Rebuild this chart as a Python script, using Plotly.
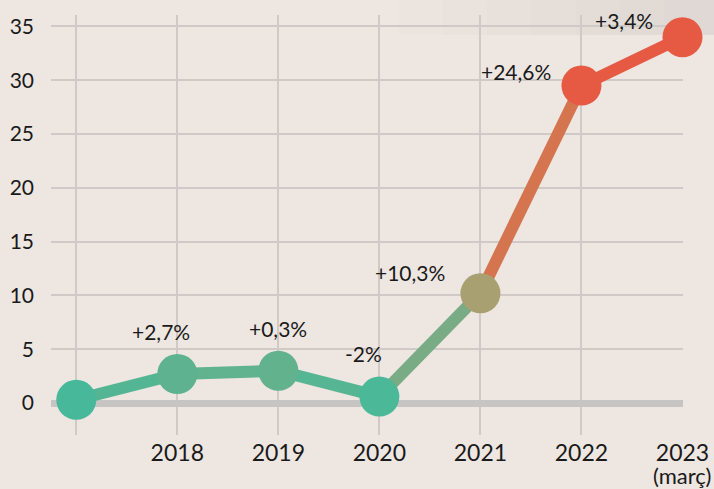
import plotly.graph_objects as go
from plotly.colors import sample_colorscale

# ---- data ----
years = [2017, 2018, 2019, 2020, 2021, 2022, 2023]
values = [0.3, 2.7, 3.0, 0.6, 10.2, 29.5, 34.0]
change_labels = ["", "+2,7%", "+0,3%", "-2%", "+10,3%", "+24,6%", "+3,4%"]
tick_text = ["", "2018", "2019", "2020", "2021", "2022", "2023"]
last_tick_note = "(març)"
y_ticks = [0, 5, 10, 15, 20, 25, 30, 35]

# ---- styles ----
BG = "#ede6e1"
FONT = "Lato"
colorscale = [[0.0, "#45b99b"], [0.34, "#a8a070"], [0.67, "#d5744f"], [0.97, "#e65a44"], [1.0, "#e65a44"]]
CMIN, CMAX = 0, 30
# label offsets (px) relative to each point
label_dx = [0, -16, 0, -16, -70, -65, -58]
label_dy = [0, 42, 42, 43, 21, 14, 17]


def col(v):
    t = min(max((v - CMIN) / (CMAX - CMIN), 0), 1)
    return sample_colorscale(colorscale, [t])[0]


fig = go.Figure()

# line segments, colored by their mean value (approximate gradient)
for i in range(len(years) - 1):
    fig.add_trace(go.Scatter(
        x=years[i:i + 2], y=values[i:i + 2], mode="lines",
        line=dict(color=col((values[i] + values[i + 1]) / 2), width=12),
        hoverinfo="skip", showlegend=False, cliponaxis=False))

fig.add_trace(go.Scatter(
    x=years, y=values, mode="markers",
    marker=dict(size=40, color=values, colorscale=colorscale, cmin=CMIN, cmax=CMAX,
                line=dict(width=0)),
    showlegend=False, cliponaxis=False))

for x, y, t, dx, dy in zip(years, values, change_labels, label_dx, label_dy):
    if t:
        fig.add_annotation(x=x, y=y, text=t, showarrow=False, xshift=dx, yshift=dy,
                           font=dict(family=FONT, size=21, color="#1a1a1a"))

# note under the last tick label
fig.add_annotation(x=years[-1], xref="x", y=0, yref="paper", yanchor="top",
                   yshift=-25, text=last_tick_note, showarrow=False,
                   font=dict(family=FONT, size=22, color="#1a1a1a"))

# subtle darker band at the top right (stepped fade)
for x0 in [0.55, 0.62, 0.69, 0.76, 0.83, 0.90, 0.97]:
    fig.add_shape(type="rect", xref="paper", yref="paper", x0=x0, x1=1.05, y0=0.952, y1=1.04,
                  fillcolor="rgba(180,165,160,0.025)", line=dict(width=0), layer="below")

fig.update_layout(
    width=714, height=489,
    paper_bgcolor=BG, plot_bgcolor=BG,
    margin=dict(l=51, r=31, t=15, b=54, autoexpand=False),
    font=dict(family=FONT, color="#1a1a1a"),
    xaxis=dict(range=[2016.75, 2023.005], tickvals=years, ticktext=tick_text,
               showgrid=True, gridcolor="#cfcac7", gridwidth=2, zeroline=False,
               showline=False, ticks="", tickfont=dict(size=23, family=FONT),
               ticklabelstandoff=2, automargin=False),
    yaxis=dict(range=[-2.97, 36.06], tickvals=y_ticks, showgrid=True,
               gridcolor="#cfcac7", gridwidth=2, zeroline=True, zerolinecolor="#c6c5c4",
               zerolinewidth=7, showline=False, ticks="",
               tickfont=dict(size=21, family=FONT), ticklabelstandoff=16, automargin=False),
)

fig.write_html(
    "out.html",
    config={"displayModeBar": False},
    post_script="document.body.style.margin='0';document.body.style.overflow='hidden';"
                "document.body.style.background='" + BG + "';",
)
